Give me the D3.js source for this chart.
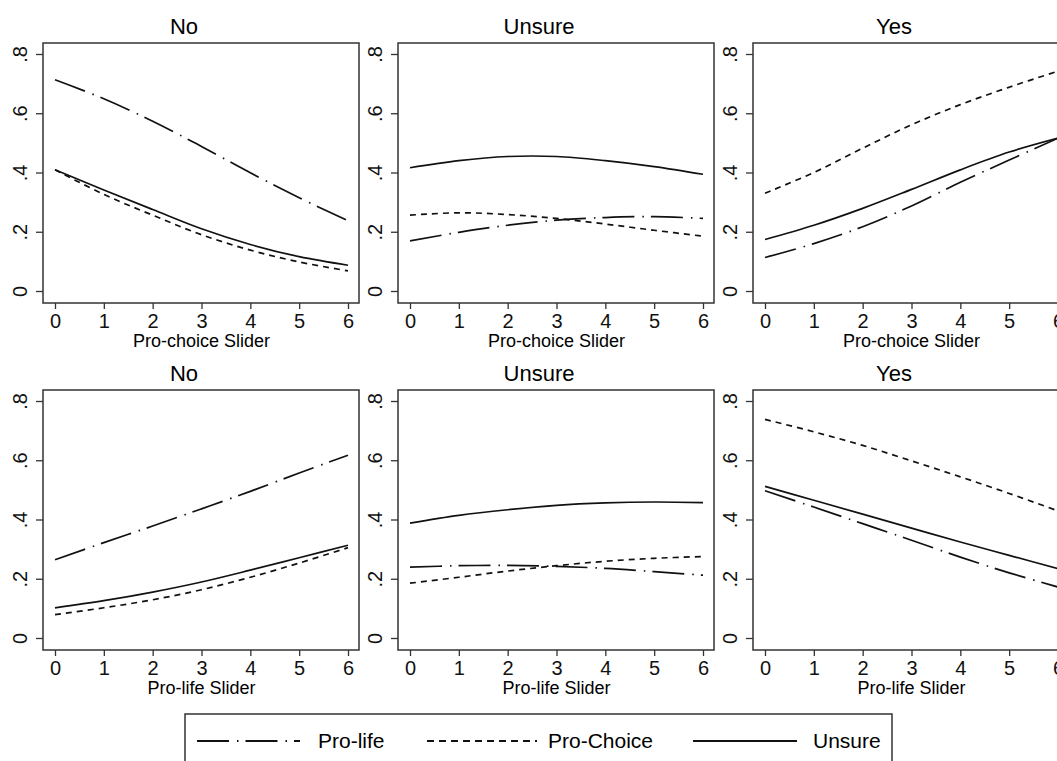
<!DOCTYPE html>
<html>
<head>
<meta charset="utf-8">
<script src="https://cdn.jsdelivr.net/npm/d3@7"></script>
<style>
  body { margin: 0; background: #fff; overflow: hidden; }
  svg { display: block; font-family: "Liberation Sans", Arial, sans-serif; }
</style>
</head>
<body>
<div id="vis"></div>
<script>
const w = 1057;
const h = 761;

// data
const sliderTicks = [0, 1, 2, 3, 4, 5, 6];
const yTicks = [0, 0.2, 0.4, 0.6, 0.8];
const outcomes = ["No", "Unsure", "Yes"];
const sliders = ["Pro-choice Slider", "Pro-life Slider"];
const seriesNames = ["Pro-life", "Pro-Choice", "Unsure"];

// row 1: pro-choice slider
const choiceNoProLife     = [0.713, 0.649, 0.573, 0.488, 0.399, 0.315, 0.237];
const choiceNoProChoice   = [0.409, 0.326, 0.256, 0.190, 0.138, 0.098, 0.068];
const choiceNoUnsure      = [0.409, 0.341, 0.275, 0.210, 0.157, 0.116, 0.087];
const choiceUnsProLife    = [0.169, 0.198, 0.222, 0.239, 0.248, 0.251, 0.245];
const choiceUnsProChoice  = [0.256, 0.264, 0.258, 0.245, 0.226, 0.205, 0.185];
const choiceUnsUnsure     = [0.416, 0.440, 0.454, 0.454, 0.440, 0.420, 0.394];
const choiceYesProLife    = [0.113, 0.160, 0.217, 0.287, 0.367, 0.442, 0.516];
const choiceYesProChoice  = [0.330, 0.400, 0.482, 0.561, 0.629, 0.688, 0.742];
const choiceYesUnsure     = [0.174, 0.222, 0.279, 0.343, 0.409, 0.469, 0.516];

// row 2: pro-life slider
const lifeNoProLife       = [0.264, 0.322, 0.378, 0.436, 0.495, 0.557, 0.617];
const lifeNoProChoice     = [0.079, 0.102, 0.129, 0.163, 0.205, 0.253, 0.305];
const lifeNoUnsure        = [0.102, 0.126, 0.155, 0.189, 0.229, 0.271, 0.313];
const lifeUnsProLife      = [0.239, 0.244, 0.245, 0.242, 0.235, 0.224, 0.212];
const lifeUnsProChoice    = [0.185, 0.205, 0.226, 0.244, 0.259, 0.269, 0.275];
const lifeUnsUnsure       = [0.388, 0.414, 0.433, 0.448, 0.456, 0.459, 0.457];
const lifeYesProLife      = [0.497, 0.442, 0.386, 0.330, 0.273, 0.220, 0.172];
const lifeYesProChoice    = [0.738, 0.696, 0.650, 0.598, 0.544, 0.488, 0.429];
const lifeYesUnsure       = [0.512, 0.465, 0.418, 0.371, 0.324, 0.279, 0.234];

const panelData = [
  [[choiceNoProLife, choiceNoProChoice, choiceNoUnsure],
   [choiceUnsProLife, choiceUnsProChoice, choiceUnsUnsure],
   [choiceYesProLife, choiceYesProChoice, choiceYesUnsure]],
  [[lifeNoProLife, lifeNoProChoice, lifeNoUnsure],
   [lifeUnsProLife, lifeUnsProChoice, lifeUnsUnsure],
   [lifeYesProLife, lifeYesProChoice, lifeYesUnsure]]
];

// styling per series
const dashes = ["32,8,1.5,7", "6,5", null];
const legendDashes = ["32,8,1.5,7", "7,5", null];

// layout
const colLeft = [43, 398, 753];
const rowTop = [43, 390];
const frameW = 316;
const frameH = 260;
const padX = 12;

const svg = d3.select('#vis')
  .append('svg')
  .attr('width', w)
  .attr('height', h);

svg.append('rect')
  .attr('width', w)
  .attr('height', h)
  .attr('fill', '#fff');

const line = d3.line().curve(d3.curveCatmullRom.alpha(0.5));

rowTop.forEach((top, r) => {
  colLeft.forEach((left, c) => {
    const g = svg.append('g');

    const x = d3.scaleLinear()
      .domain([0, 6])
      .range([left + padX, left + frameW - padX + 1]);
    const y = d3.scaleLinear()
      .domain([0, 0.8])
      .range([top + 248, top + 11]);

    // title
    g.append('text')
      .attr('x', left + frameW / 2 - 17)
      .attr('y', top - 9)
      .attr('text-anchor', 'middle')
      .attr('font-size', '22px')
      .text(outcomes[c]);

    // series
    panelData[r][c].forEach((vals, i) => {
      g.append('path')
        .attr('d', line(vals.map((v, k) => [x(sliderTicks[k]), y(v)])))
        .attr('fill', 'none')
        .attr('stroke', '#111')
        .attr('stroke-width', 1.7)
        .attr('stroke-dasharray', dashes[i]);
    });

    // frame
    g.append('rect')
      .attr('x', left)
      .attr('y', top)
      .attr('width', frameW)
      .attr('height', frameH)
      .attr('fill', 'none')
      .attr('stroke', '#333')
      .attr('stroke-width', 1.5);

    // x axis
    const xa = g.append('g')
      .attr('transform', 'translate(0,' + (top + frameH) + ')')
      .call(d3.axisBottom(x).tickValues(sliderTicks).tickFormat(d3.format('d'))
        .tickSize(6).tickSizeOuter(0).tickPadding(5));
    xa.select('.domain').remove();
    xa.selectAll('.tick line').attr('stroke', '#333').attr('stroke-width', 1.3);
    xa.selectAll('.tick text')
      .attr('font-size', '20px')
      .attr('fill', '#111')
      .attr('font-family', '"Liberation Sans", Arial, sans-serif');

    // y axis, vertical labels
    const ya = g.append('g')
      .attr('transform', 'translate(' + left + ',0)')
      .call(d3.axisLeft(y).tickValues(yTicks).tickSize(7).tickSizeOuter(0)
        .tickFormat(d => d === 0 ? '0' : d3.format('.1f')(d).replace(/^0/, '')));
    ya.select('.domain').remove();
    ya.selectAll('.tick line').attr('stroke', '#333').attr('stroke-width', 1.3);
    ya.selectAll('.tick text')
      .attr('transform', 'rotate(-90)')
      .attr('x', 0)
      .attr('y', -16)
      .attr('dy', 0)
      .attr('text-anchor', 'middle')
      .attr('font-size', '20px')
      .attr('fill', '#111')
      .attr('font-family', '"Liberation Sans", Arial, sans-serif');

    // x axis title
    g.append('text')
      .attr('x', (x.range()[0] + x.range()[1]) / 2)
      .attr('y', top + frameH + 44)
      .attr('text-anchor', 'middle')
      .attr('font-size', '18px')
      .text(sliders[r]);
  });
});

// legend
const legend = svg.append('g');
legend.append('rect')
  .attr('x', 185)
  .attr('y', 714)
  .attr('width', 707)
  .attr('height', 70)
  .attr('fill', '#fff')
  .attr('stroke', '#333')
  .attr('stroke-width', 1.5);

const legendLines = [[197, 300], [427, 537], [693, 797]];
const legendText = [318, 548, 813];

seriesNames.forEach((name, i) => {
  legend.append('line')
    .attr('x1', legendLines[i][0])
    .attr('x2', legendLines[i][1])
    .attr('y1', 741)
    .attr('y2', 741)
    .attr('stroke', '#111')
    .attr('stroke-width', 1.8)
    .attr('stroke-dasharray', legendDashes[i]);
  legend.append('text')
    .attr('x', legendText[i])
    .attr('y', 748)
    .attr('font-size', '21px')
    .text(name);
});
</script>
</body>
</html>
